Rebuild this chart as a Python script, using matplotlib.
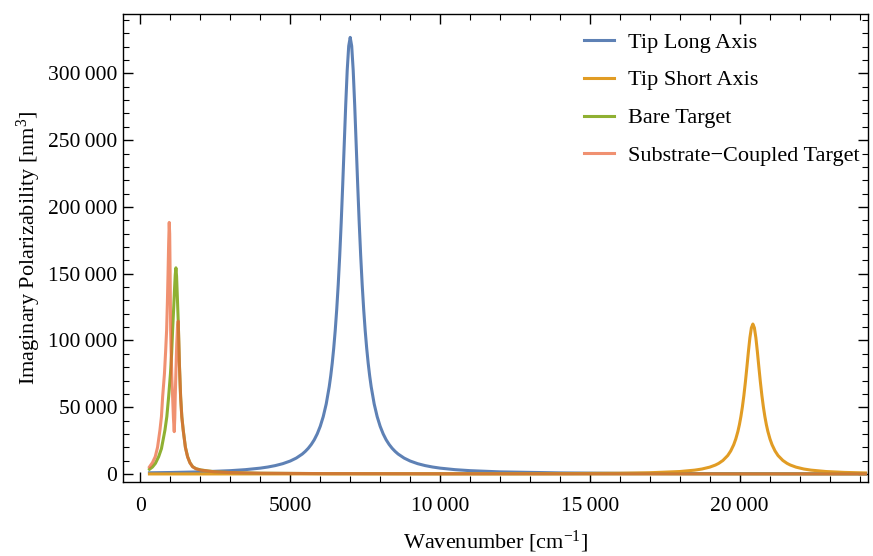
import matplotlib
matplotlib.use("Agg")
import matplotlib.pyplot as plt
from matplotlib.ticker import MultipleLocator, FuncFormatter

# values (wavenumber in cm^-1, polarizability in nm^3)
long_x = [300, 1000, 2000, 3000, 3500, 4000, 4250, 4500, 4750, 5000,
          5200, 5400, 5500, 5600, 5700, 5800, 5900, 6000, 6100, 6200,
          6300, 6350, 6400, 6450, 6500, 6550, 6600, 6650, 6700, 6750,
          6800, 6850, 6900, 6950, 7000,
          7050, 7100, 7150, 7200, 7250, 7300, 7350, 7400, 7450, 7500,
          7550, 7600, 7650, 7700, 7800, 7900, 8000, 8100, 8200, 8300,
          8400, 8500, 8600, 8800, 9000, 9250, 9500, 9750, 10000, 10500,
          11000, 12000, 14000, 16000, 18000, 20000, 22000, 24200]
long_y = [890, 1110, 1590, 2490, 3240, 4390, 5210, 6290, 7730, 9720,
          11910, 14930, 16900, 19240, 22100, 25600, 30060, 35700, 42960, 52500,
          65400, 73500, 83000, 94260, 107500, 123260, 141800, 163500, 188500, 216600,
          246500, 276300, 302300, 320500, 327000,
          320500, 302300, 276300, 246500, 216600, 188500, 163500, 141800, 123260, 107500,
          94260, 83000, 73500, 65400, 52500, 42960, 35700, 30060, 25600, 22100,
          19240, 16900, 14930, 11910, 9720, 7730, 6290, 5210, 4390, 3240,
          2490, 1590, 815, 494, 331, 237, 178, 135]

short_x = [300, 1000, 5000, 10000, 14000, 16000, 17000, 18000, 18500, 18740,
           19000, 19190, 19300, 19440, 19600, 19700, 19800, 19870, 19940, 19990,
           20040, 20090, 20140, 20190, 20240, 20290, 20340, 20390, 20440,
           20490, 20540, 20590, 20640, 20690, 20740, 20790, 20840, 20890, 20940,
           21010, 21080, 21180, 21280, 21440, 21580, 21690, 21880, 22140, 22380,
           22880, 23500, 24200]
short_y = [28, 30, 47, 102, 268, 562, 934, 1840, 2890, 3727,
           5130, 6705, 7960, 10135, 13800, 17227, 21900, 26275, 31900, 36929,
           43000, 50255, 58900, 68900, 80000, 91540, 102000, 109500, 112300,
           109500, 102000, 91540, 80000, 68900, 58900, 50255, 43000, 36929, 31900,
           26275, 21900, 17227, 13800, 10135, 7960, 6705, 5130, 3727, 2890,
           1840, 1180, 783]

bare_x = [300, 400, 500, 607, 700, 817, 880, 940, 1000, 1040, 1073, 1110, 1140, 1160,
          1183, 1205, 1230, 1260, 1300, 1340, 1380, 1427, 1500, 1573, 1650, 1740, 1850,
          2017, 2450, 3000, 4000, 6000, 10000, 15000, 24200]
bare_y = [3500, 5200, 8000, 12950, 19000, 32900, 43000, 57900, 75000, 90000, 107800,
          125000, 140000, 149000, 154400, 148000, 133000, 114500, 82000, 57900, 43000,
          32900, 20000, 12950, 8500, 5500, 4000, 3000, 1700, 1100, 600, 300, 150, 80, 40]

coupled_x = [300, 400, 493, 570, 650, 700, 740, 800, 840, 873, 900, 920, 940, 960, 975,
             990, 1007, 1030, 1050, 1073, 1100, 1127, 1145, 1160, 1185, 1210, 1235, 1260,
             1300, 1340, 1380, 1427, 1500, 1573, 1650, 1740, 1850, 2017, 2450, 3000, 4000,
             6000, 10000, 15000, 24200]
coupled_y = [5300, 8500, 12950, 20000, 32900, 43000, 57900, 75000, 92000, 107800, 130000,
             150000, 172000, 188400, 180000, 150000, 107800, 85000, 70000, 57900, 42000,
             31700, 42000, 57900, 78000, 97000, 110000, 114500, 81000, 57500, 42500, 32500,
             19800, 12800, 8400, 5400, 3900, 2900, 1650, 1050, 580, 290, 140, 75, 38]

labels = ["Tip Long Axis", "Tip Short Axis", "Bare Target", "Substrate\u2212Coupled Target"]
colors = ["#5E81B5", "#E19C24", "#8FB032", "#EB6235"]

plt.rcParams["font.family"] = ["Liberation Serif", "DejaVu Serif"]
plt.rcParams["mathtext.fontset"] = "custom"
plt.rcParams["mathtext.rm"] = "Liberation Serif"
plt.rcParams["mathtext.it"] = "Liberation Serif:italic"

fig = plt.figure(figsize=(8.73, 5.56), dpi=100)
ax = fig.add_axes([0.1409, 0.1331, 0.8534, 0.8412])

ax.plot(long_x, long_y, color=colors[0], lw=2.2, label=labels[0])
ax.plot(short_x, short_y, color=colors[1], lw=2.2, label=labels[1])
ax.plot(bare_x, bare_y, color=colors[2], lw=2.2, label=labels[2])
ax.plot(coupled_x, coupled_y, color=colors[3], lw=2.2, alpha=0.7, label=labels[3])

ax.set_xlim(-583, 24283)
ax.set_ylim(-6000, 344300)


def thousands(v, pos):
    v = int(round(v))
    if abs(v) < 10000:
        return str(v)
    s = f"{v:,}"
    return s.replace(",", "\u2009")


ax.xaxis.set_major_locator(MultipleLocator(5000))
ax.xaxis.set_minor_locator(MultipleLocator(1000))
ax.yaxis.set_major_locator(MultipleLocator(50000))
ax.yaxis.set_minor_locator(MultipleLocator(10000))
ax.xaxis.set_major_formatter(FuncFormatter(thousands))
ax.yaxis.set_major_formatter(FuncFormatter(thousands))
ax.tick_params(which="both", direction="in", top=True, right=True, labelsize=15.5, color="black")
ax.tick_params(which="major", length=7.5, width=1)
ax.tick_params(which="minor", length=4.5, width=0.8)
ax.tick_params(axis="x", which="major", pad=11)
ax.tick_params(axis="y", which="major", pad=4)
for sp in ax.spines.values():
    sp.set_linewidth(1)

ax.set_xlabel("Wavenumber [cm$^{-1}$]", fontsize=16, labelpad=9)
ax.set_ylabel("Imaginary Polarizability [nm$^3$]", fontsize=16, labelpad=4)

ax.legend(loc="upper right", frameon=False, fontsize=16, handlelength=1.35,
          handletextpad=0.6, labelspacing=0.78, bbox_to_anchor=(1.015, 1.005))

fig.savefig("out.png", dpi=100)
